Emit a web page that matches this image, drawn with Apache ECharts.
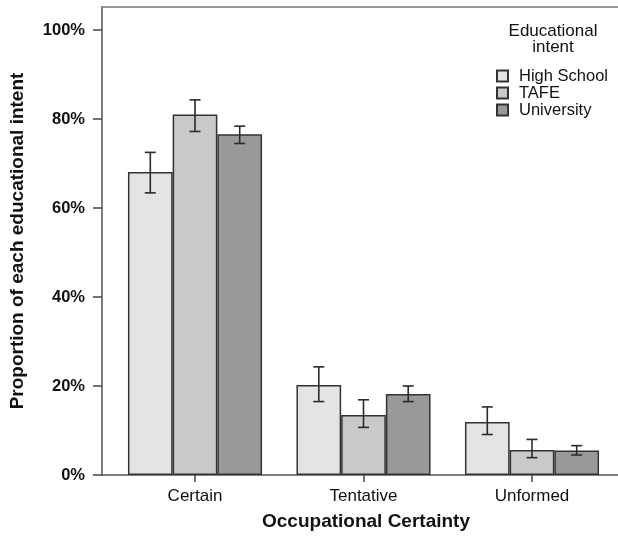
<!DOCTYPE html>
<html>
<head>
<meta charset="utf-8">
<script src="https://cdn.jsdelivr.net/npm/echarts@6/dist/echarts.min.js"></script>
<style>
html,body{margin:0;padding:0;background:#fff;}
#chart{width:618px;height:536px;}
</style>
</head>
<body>
<div id="chart"></div>
<script>
// ---- Data ----
const categories = ['Certain', 'Tentative', 'Unformed'];
const seriesNames = ['High School', 'TAFE', 'University'];
const highSchool = [68.1, 20.2, 11.9];
const tafe = [81.0, 13.5, 5.6];
const university = [76.6, 18.2, 5.5];
const highSchoolLow = [63.4, 16.5, 9.1];
const highSchoolHigh = [72.5, 24.3, 15.3];
const tafeLow = [77.2, 10.7, 3.9];
const tafeHigh = [84.3, 16.9, 8.0];
const universityLow = [74.5, 16.5, 4.5];
const universityHigh = [78.4, 20.0, 6.6];
const yTickValues = [0, 20, 40, 60, 80, 100];

// ---- Styling / layout ----
const colors = ['#e4e4e4', '#c9c9c9', '#999999'];
const barWidth = 44.7;
const capHalf = 5.5;
const font = 'Liberation Sans, Arial, sans-serif';
const catPositions = categories.map((c, i) => i + 1);
const xMin = 0.448, xMax = 3.5104;
const yMax = 105.17;

const values = [highSchool, tafe, university];
const lows = [highSchoolLow, tafeLow, universityLow];
const highs = [highSchoolHigh, tafeHigh, universityHigh];

const chart = echarts.init(document.getElementById('chart'), null, {renderer: 'canvas'});

const barSeries = seriesNames.map((name, s) => ({
  name: name,
  type: 'bar',
  xAxisIndex: 0,
  yAxisIndex: 0,
  barWidth: barWidth,
  barGap: '0%',
  itemStyle: {color: colors[s], borderColor: '#333333', borderWidth: 1.5},
  emphasis: {disabled: true},
  data: values[s].map((v, i) => [catPositions[i], v])
}));

const errSeries = seriesNames.map((name, s) => ({
  type: 'custom',
  xAxisIndex: 0,
  yAxisIndex: 0,
  silent: true,
  z: 5,
  data: lows[s].map((lo, i) => [catPositions[i], lo, highs[s][i]]),
  renderItem: function (params, api) {
    const x = api.value(0);
    const lo = api.coord([x, api.value(1)]);
    const hi = api.coord([x, api.value(2)]);
    const cx = lo[0] + (s - 1) * barWidth;
    const style = {stroke: '#2a2a2a', lineWidth: 1.6};
    return {
      type: 'group',
      children: [
        {type: 'line', shape: {x1: cx, y1: lo[1], x2: cx, y2: hi[1]}, style: style},
        {type: 'line', shape: {x1: cx - capHalf, y1: lo[1], x2: cx + capHalf, y2: lo[1]}, style: style},
        {type: 'line', shape: {x1: cx - capHalf, y1: hi[1], x2: cx + capHalf, y2: hi[1]}, style: style}
      ]
    };
  }
}));

const option = {
  animation: false,
  backgroundColor: '#ffffff',
  grid: {left: 102, right: 0, top: 7, bottom: 61, containLabel: false},
  legend: {
    orient: 'vertical',
    left: 491,
    top: 62.5,
    itemWidth: 11,
    itemHeight: 11,
    itemGap: 0,
    icon: 'rect',
    selectedMode: false,
    data: seriesNames,
    textStyle: {fontFamily: font, fontSize: 16.5, lineHeight: 17, color: '#111', padding: [0, 0, 0, 6]}
  },
  graphic: [{
    type: 'text',
    x: 553,
    y: 23,
    style: {
      text: 'Educational\nintent',
      fontFamily: font,
      fontSize: 17,
      lineHeight: 16,
      fill: '#111',
      align: 'center',
      verticalAlign: 'top'
    }
  }],
  xAxis: [{
    type: 'value',
    position: 'bottom',
    min: xMin,
    max: xMax,
    splitLine: {show: false},
    axisLine: {show: true, onZero: false, lineStyle: {color: '#555', width: 1.5}},
    axisTick: {show: true, customValues: catPositions, length: 7, inside: false, lineStyle: {color: '#444', width: 1.5}},
    axisLabel: {
      customValues: catPositions,
      formatter: v => categories[Math.round(v) - 1] || '',
      margin: 13,
      fontFamily: font,
      fontSize: 17,
      color: '#111'
    },
    name: 'Occupational Certainty',
    nameLocation: 'middle',
    nameGap: 37,
    nameTextStyle: {fontFamily: font, fontSize: 19, fontWeight: 'bold', color: '#111', padding: [0, 0, 0, 12]}
  }, {
    type: 'value',
    position: 'top',
    min: xMin,
    max: xMax,
    splitLine: {show: false},
    axisLine: {show: true, onZero: false, lineStyle: {color: '#777', width: 1.5}},
    axisTick: {show: false},
    axisLabel: {show: false}
  }],
  yAxis: {
    type: 'value',
    min: 0,
    max: yMax,
    splitLine: {show: false},
    axisLine: {show: true, onZero: false, lineStyle: {color: '#555', width: 1.5}},
    axisTick: {show: true, customValues: yTickValues, length: 9, lineStyle: {color: '#444', width: 1.5}},
    axisLabel: {
      customValues: yTickValues,
      formatter: v => v + '%',
      margin: 17,
      fontFamily: font,
      fontSize: 16.5,
      fontWeight: 'bold',
      color: '#111'
    },
    name: 'Proportion of each educational intent',
    nameLocation: 'middle',
    nameGap: 75,
    nameTextStyle: {fontFamily: font, fontSize: 19, fontWeight: 'bold', color: '#111'}
  },
  series: barSeries.concat(errSeries)
};

chart.setOption(option);
</script>
</body>
</html>
